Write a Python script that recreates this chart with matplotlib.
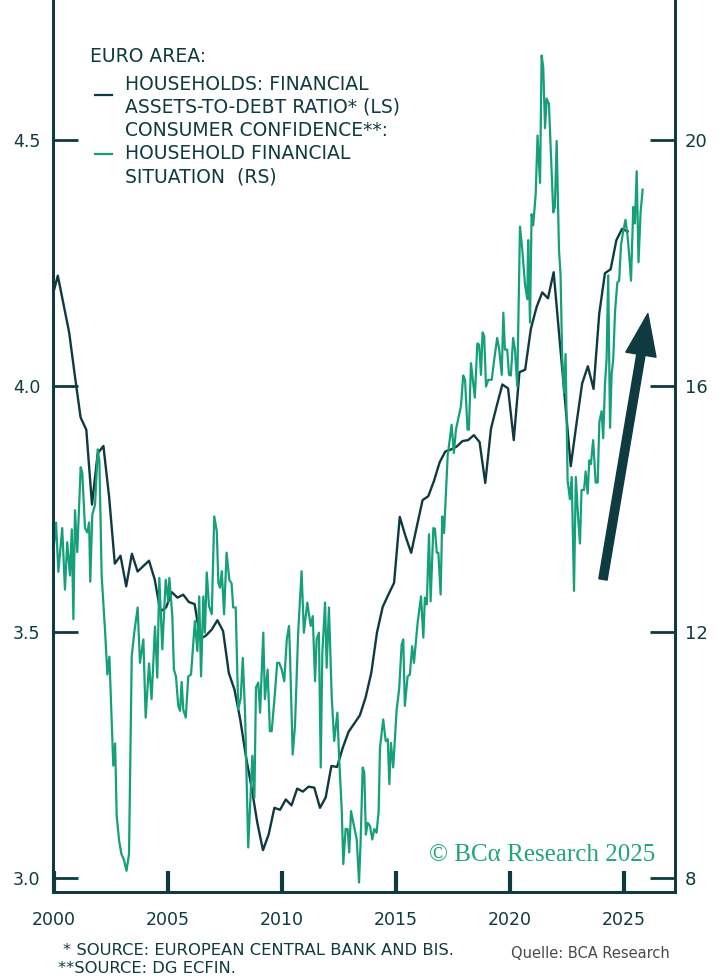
import numpy as np
import matplotlib.pyplot as plt
from matplotlib.lines import Line2D

# households: financial assets-to-debt ratio (LS), quarterly
ratio_x = 1999.917 + 0.25 * np.arange(102)
ratio = [4.18, 4.224, 4.166, 4.108, 4.02, 3.936, 3.911, 3.759, 3.863, 3.878,
         3.775, 3.639, 3.655, 3.593, 3.659, 3.623, 3.634, 3.645, 3.607, 3.542,
         3.550, 3.581, 3.570, 3.576, 3.561, 3.557, 3.486, 3.493, 3.505, 3.524,
         3.502, 3.417, 3.383, 3.323, 3.248, 3.184, 3.113, 3.057, 3.089, 3.143,
         3.139, 3.160, 3.148, 3.182, 3.176, 3.186, 3.184, 3.143, 3.164, 3.228,
         3.226, 3.265, 3.297, 3.314, 3.331, 3.367, 3.417, 3.499, 3.551, 3.576,
         3.600, 3.734, 3.695, 3.661, 3.715, 3.768, 3.776, 3.807, 3.845, 3.867,
         3.871, 3.877, 3.888, 3.890, 3.900, 3.886, 3.803, 3.913, 3.959, 4.003,
         3.995, 3.890, 4.028, 4.033, 4.116, 4.160, 4.190, 4.178, 4.231, 4.10,
         3.97, 3.837, 3.923, 4.005, 4.040, 3.994, 4.147, 4.229, 4.237, 4.296,
         4.319, 4.314]

# consumer confidence: household financial situation (RS)
conf_x = [1999.97, 2000.09, 2000.19, 2000.36, 2000.48, 2000.58, 2000.70, 2000.78, 2000.85, 2000.92,
          2001.02, 2001.17, 2001.24, 2001.36, 2001.46, 2001.54, 2001.59, 2001.68, 2001.80, 2001.92,
          2001.99, 2002.09, 2002.24, 2002.34, 2002.43, 2002.60, 2002.68, 2002.75, 2002.86, 2002.96,
          2003.06, 2003.18, 2003.29, 2003.41, 2003.52, 2003.67, 2003.77, 2003.92, 2004.02, 2004.17,
          2004.28, 2004.43, 2004.53, 2004.62, 2004.75, 2004.90, 2005.01, 2005.06, 2005.19, 2005.26,
          2005.35, 2005.45, 2005.53, 2005.60, 2005.67, 2005.78, 2005.89, 2006.01, 2006.18, 2006.29,
          2006.37, 2006.45, 2006.55, 2006.62, 2006.70, 2006.80, 2006.92, 2007.03, 2007.14, 2007.21,
          2007.28, 2007.36, 2007.46, 2007.57, 2007.69, 2007.79, 2007.86, 2007.97, 2008.08, 2008.19,
          2008.28, 2008.38, 2008.52, 2008.60, 2008.70, 2008.79, 2008.86, 2008.96, 2009.04, 2009.18,
          2009.25, 2009.37, 2009.47, 2009.55, 2009.69, 2009.79, 2009.88, 2009.99, 2010.10, 2010.21,
          2010.31, 2010.35, 2010.47, 2010.57, 2010.71, 2010.86, 2010.96, 2011.11, 2011.26, 2011.35,
          2011.45, 2011.52, 2011.62, 2011.70, 2011.77, 2011.89, 2011.96, 2012.06, 2012.18, 2012.29,
          2012.43, 2012.51, 2012.62, 2012.69, 2012.79, 2012.88, 2012.95, 2013.03, 2013.13, 2013.28,
          2013.38, 2013.45, 2013.54, 2013.61, 2013.68, 2013.76, 2013.86, 2013.96, 2014.05, 2014.15,
          2014.24, 2014.30, 2014.44, 2014.55, 2014.64, 2014.71, 2014.78, 2014.88, 2015.03, 2015.14,
          2015.25, 2015.32, 2015.39, 2015.51, 2015.61, 2015.71, 2015.79, 2015.95, 2016.10, 2016.20,
          2016.27, 2016.35, 2016.45, 2016.52, 2016.64, 2016.71, 2016.79, 2016.86, 2016.96, 2017.03,
          2017.11, 2017.27, 2017.34, 2017.44, 2017.54, 2017.63, 2017.76, 2017.85, 2017.95, 2018.03,
          2018.14, 2018.20, 2018.29, 2018.46, 2018.57, 2018.65, 2018.73, 2018.80, 2018.87, 2018.95,
          2019.05, 2019.20, 2019.30, 2019.44, 2019.53, 2019.64, 2019.71, 2019.78, 2019.88, 2019.96,
          2020.04, 2020.14, 2020.22, 2020.32, 2020.44, 2020.54, 2020.66, 2020.76, 2020.80, 2020.88,
          2020.95, 2021.02, 2021.13, 2021.21, 2021.32, 2021.39, 2021.46, 2021.54, 2021.61, 2021.71,
          2021.79, 2021.90, 2021.97, 2022.05, 2022.15, 2022.22, 2022.29, 2022.37, 2022.44, 2022.53,
          2022.63, 2022.71, 2022.81, 2022.89, 2022.99, 2023.07, 2023.14, 2023.25, 2023.32, 2023.41,
          2023.48, 2023.55, 2023.65, 2023.76, 2023.85, 2023.92, 2024.02, 2024.09, 2024.17, 2024.24,
          2024.31, 2024.39, 2024.46, 2024.53, 2024.61, 2024.71, 2024.79, 2024.87, 2024.97, 2025.07,
          2025.16, 2025.23, 2025.31, 2025.41, 2025.48, 2025.56, 2025.64, 2025.73, 2025.82]
conf = [13.30, 13.78, 12.98, 13.69, 12.69, 13.46, 12.92, 13.67, 12.21, 13.98,
        13.30, 14.68, 14.59, 13.69, 13.62, 13.78, 12.82, 13.91, 14.07, 14.97,
        14.78, 12.92, 12.02, 11.31, 11.60, 9.83, 10.19, 9.01, 8.60, 8.39,
        8.31, 8.12, 8.39, 11.61, 11.99, 12.40, 11.50, 11.88, 10.61, 11.49,
        10.91, 12.09, 11.26, 12.88, 11.72, 12.85, 12.50, 12.88, 12.26, 11.39,
        11.28, 10.80, 10.72, 11.19, 10.74, 10.61, 11.28, 11.31, 12.18, 11.69,
        12.58, 11.28, 12.58, 11.99, 12.97, 12.42, 12.29, 13.88, 13.64, 12.80,
        12.72, 12.99, 12.29, 13.29, 12.85, 12.79, 12.40, 12.40, 10.74, 10.93,
        11.58, 10.69, 8.50, 9.15, 9.99, 9.31, 11.10, 11.18, 10.69, 11.99,
        10.91, 11.39, 10.39, 10.39, 11.01, 11.50, 11.50, 11.39, 11.20, 11.88,
        12.10, 11.66, 10.01, 10.47, 11.99, 12.99, 11.99, 12.48, 12.10, 12.26,
        11.20, 11.88, 11.99, 9.80, 11.66, 12.48, 11.42, 12.40, 10.96, 10.23,
        10.69, 9.93, 9.12, 8.23, 8.80, 8.80, 8.42, 9.09, 8.90, 8.63,
        7.93, 8.60, 9.80, 9.72, 8.71, 8.90, 8.85, 8.63, 8.80, 8.74,
        9.09, 10.12, 10.58, 10.23, 10.26, 9.53, 10.20, 9.80, 10.74, 11.07,
        11.80, 11.88, 10.80, 11.28, 11.31, 11.77, 11.50, 12.15, 12.58, 11.91,
        12.56, 12.45, 13.59, 12.50, 13.69, 13.68, 13.29, 13.29, 12.61, 13.88,
        13.61, 14.88, 15.07, 15.37, 14.91, 15.29, 15.51, 15.67, 16.17, 16.10,
        15.29, 15.29, 16.37, 15.81, 16.69, 16.67, 16.18, 16.87, 16.81, 15.99,
        16.10, 16.10, 16.40, 16.78, 16.59, 16.18, 17.19, 16.59, 16.59, 16.18,
        16.17, 16.78, 16.59, 15.99, 18.59, 18.22, 17.65, 17.41, 18.37, 17.03,
        18.79, 18.61, 19.12, 20.07, 19.30, 21.37, 21.18, 20.19, 20.67, 20.58,
        19.83, 18.82, 18.91, 19.98, 18.22, 17.80, 16.49, 15.89, 16.52, 14.46,
        14.16, 14.52, 12.67, 14.52, 13.86, 13.44, 14.31, 14.31, 14.61, 14.25,
        14.79, 14.73, 15.12, 14.43, 14.43, 15.41, 15.59, 15.15, 16.04, 16.43,
        17.80, 15.32, 16.19, 16.43, 17.21, 17.68, 17.71, 18.28, 18.52, 18.70,
        18.43, 18.13, 17.71, 18.91, 18.64, 19.49, 18.01, 18.82, 19.19]

left_ticks = [3.0, 3.5, 4.0, 4.5]
right_ticks = [8, 12, 16, 20]
year_ticks = [2000, 2005, 2010, 2015, 2020, 2025]

dark = '#0f3a40'
green = '#15a07a'
plt.rcParams['font.family'] = ['DejaVu Sans']

fig = plt.figure(figsize=(7.25, 9.8), dpi=100)
ax = fig.add_axes([53 / 725, 88 / 980, 622 / 725, 892 / 980])
ax2 = ax.twinx()

ax.plot(ratio_x, ratio, color=dark, lw=1.7, zorder=3)
ax2.plot(conf_x, conf, color=green, lw=1.6, zorder=2)

ax.set_xlim(1999.956, 2027.24)
ax.set_ylim(2.972, 4.784)
ax2.set_ylim(8 * 2.972 - 16, 8 * 4.784 - 16)

ax.set_xticks(year_ticks)
ax.set_yticks(left_ticks)
ax.set_yticklabels(['%.1f' % v for v in left_ticks])
ax2.set_yticks(right_ticks)

for a in (ax, ax2):
    a.spines['top'].set_visible(False)
    for s in a.spines.values():
        s.set_color(dark)
        s.set_linewidth(2)
ax.tick_params(axis='y', direction='in', length=18, width=2, color=dark,
               labelsize=12.5, labelcolor=dark, pad=9)
ax.tick_params(axis='x', direction='in', length=15, width=3, color=dark,
               labelsize=12.5, labelcolor=dark, pad=14)
ax2.tick_params(axis='y', direction='in', length=18, width=2, color=dark,
                labelsize=13, labelcolor=dark, pad=7)

# arrow
ax.annotate('', xy=(2026.05, 4.147), xytext=(2024.08, 3.607),
            arrowprops=dict(width=6, headwidth=22, headlength=30, color=dark, shrink=0))

# legend by hand
def fy(y):
    return 1 - y / 980

fig.text(90 / 725, fy(57), 'EURO AREA:', fontsize=13.5, color=dark, va='center')
rows = ['HOUSEHOLDS: FINANCIAL', 'ASSETS-TO-DEBT RATIO* (LS)', 'CONSUMER CONFIDENCE**:',
        'HOUSEHOLD FINANCIAL', 'SITUATION  (RS)']
for i, r in enumerate(rows):
    fig.text(125 / 725, fy(84 + 23.3 * i), r, fontsize=13.5, color=dark, va='center')
fig.add_artist(Line2D([95 / 725, 112 / 725], [fy(95), fy(95)], color=dark, lw=1.6))
fig.add_artist(Line2D([95 / 725, 112 / 725], [fy(154), fy(154)], color=green, lw=1.6))

# watermark and sources
fig.text(655 / 725, fy(855), '\u00a9 BC\u03b1 Research 2025', fontsize=18, color='#1ea57d',
         family=['Liberation Serif', 'DejaVu Serif'], ha='right', va='center')
fig.text(63 / 725, fy(950), '* SOURCE: EUROPEAN CENTRAL BANK AND BIS.', fontsize=11.8,
         color=dark, va='center')
fig.text(58 / 725, fy(968), '**SOURCE: DG ECFIN.', fontsize=11.8,
         color=dark, va='center')
fig.text(670 / 725, fy(953), 'Quelle: BCA Research', fontsize=10.5, color='#4a4a4a',
         ha='right', va='center')

fig.savefig('out.png', dpi=100)
